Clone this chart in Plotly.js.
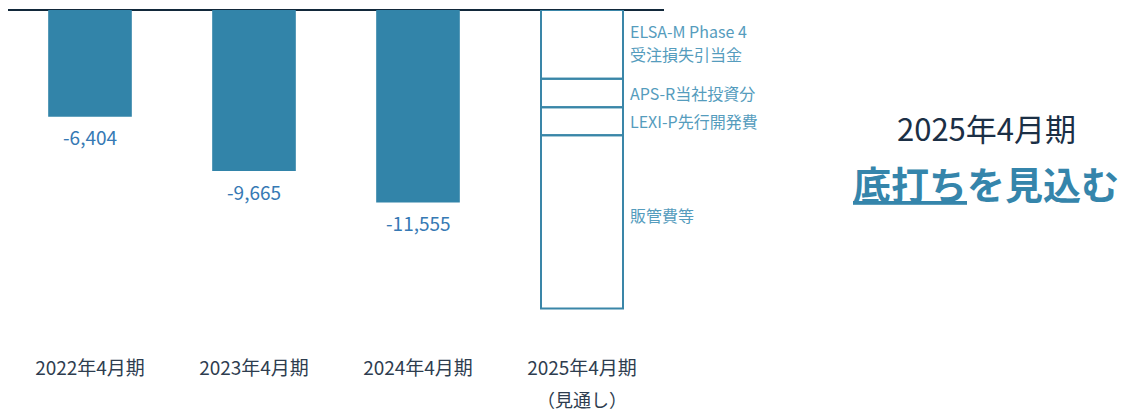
<!DOCTYPE html>
<html>
<head>
<meta charset="utf-8">
<script src="https://cdn.plot.ly/plotly-3.0.1.min.js"></script>
<style>html,body{margin:0;padding:0;background:#fff;}#chart{width:1122px;height:412px;}</style>
</head>
<body>
<div id="chart"></div>
<script>
// ---- data ----
const categories = ['2022年4月期', '2023年4月期', '2024年4月期', '2025年4月期'];
const actualCategories = ['2022年4月期', '2023年4月期', '2024年4月期'];
const actualValues = [-6404, -9665, -11555];
const forecastCategory = '2025年4月期';
const forecastNote = '（見通し）';
const segmentNames = [['ELSA-M Phase 4', '受注損失引当金'], ['APS-R当社投資分'], ['LEXI-P先行開発費'], ['販管費等']];
const segmentValues = [-4130, -1700, -1680, -10400];
const headline1 = '2025年4月期';
const headline2 = '<u>底打ち</u>を見込む';

// ---- styles ----
const FONT = '"Noto Sans CJK JP", "Noto Sans", sans-serif';
const barColor = '#3284a9';
const outlineColor = '#3a86a8';
const valueColor = '#3679b4';
const segLabelColor = '#559cbd';
const tickColor = '#2e3d4f';

const traces = [];
traces.push({
  type: 'bar', x: actualCategories, y: actualValues,
  marker: {color: barColor, line: {width: 0}},
  width: 0.51, hoverinfo: 'skip', showlegend: false
});
segmentNames.forEach((n, i) => {
  traces.push({
    type: 'bar', x: [forecastCategory], y: [segmentValues[i]], name: n.join(' '),
    marker: {color: 'rgba(255,255,255,0)', line: {color: outlineColor, width: 2}},
    width: 0.5, hoverinfo: 'skip', showlegend: false
  });
});

const annotations = [];
actualValues.forEach((v, i) => {
  annotations.push({
    x: actualCategories[i], y: v, xref: 'x', yref: 'y',
    text: v.toLocaleString('en-US'), showarrow: false,
    yanchor: 'middle', yshift: -20,
    font: {family: FONT, size: 19, color: valueColor}
  });
});
let cum = 0;
segmentValues.forEach((v, i) => {
  const mid = cum + v / 2;
  cum += v;
  const lines = segmentNames[i];
  lines.forEach((line, j) => {
    let shift = i === 3 ? 7 : 0;
    if (lines.length === 2) shift = j === 0 ? 13 : -10;
    annotations.push({
      x: 3, y: mid, xref: 'x', yref: 'y',
      text: line, showarrow: false,
      xanchor: 'left', align: 'left', xshift: 47,
      yanchor: 'middle', yshift: shift, borderpad: 0,
      font: {family: FONT, size: 16, color: segLabelColor}
    });
  });
});
annotations.push({
  x: 3, y: 0, xref: 'x', yref: 'paper', text: forecastNote, showarrow: false,
  yanchor: 'middle', yshift: -44,
  font: {family: FONT, size: 18, color: tickColor}
});
annotations.push({
  x: 1.491, y: 0, xref: 'paper', yref: 'paper', text: headline1, showarrow: false,
  xanchor: 'center', yanchor: 'middle', yshift: 228,
  font: {family: FONT, size: 31, color: '#1b2f45'}
});
annotations.push({
  x: 1.491, y: 0, xref: 'paper', yref: 'paper', text: '<b>' + headline2 + '</b>', showarrow: false,
  xanchor: 'center', yanchor: 'middle', yshift: 173,
  font: {family: FONT, size: 38, color: '#3585ab'}
});

const layout = {
  width: 1122, height: 412,
  margin: {l: 8, r: 458, t: 10, b: 57},
  paper_bgcolor: '#ffffff', plot_bgcolor: '#ffffff',
  barmode: 'relative',
  showlegend: false,
  xaxis: {
    type: 'category', categoryorder: 'array', categoryarray: categories,
    range: [-0.5, 3.5], showgrid: false, zeroline: false, showline: false,
    ticks: '', tickfont: {family: FONT, size: 19, color: tickColor}, fixedrange: true
  },
  yaxis: {
    range: [-20700, 0], showgrid: false, showticklabels: false, ticks: '',
    zeroline: true, zerolinecolor: '#12283a', zerolinewidth: 1.5, showline: false, fixedrange: true
  },
  annotations: annotations
};

Plotly.newPlot('chart', traces, layout, {staticPlot: true, displayModeBar: false});
</script>
</body>
</html>
